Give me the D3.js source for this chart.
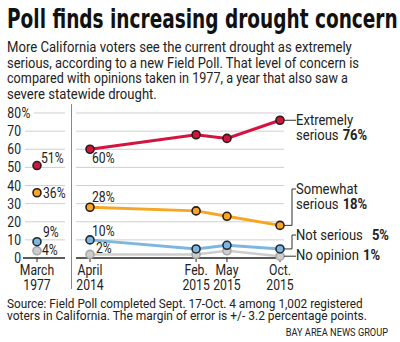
<!DOCTYPE html>
<html>
<head>
<meta charset="utf-8">
<script src="https://cdn.jsdelivr.net/npm/d3@7"></script>
<style>
  body { margin: 0; background: #fff; }
  svg { display: block; }
  text { fill: #222; font-family: "Roboto", "DejaVu Sans Condensed", sans-serif; }
  .head { font-family: "DejaVu Sans Condensed", "Roboto", sans-serif; }
</style>
</head>
<body>
<script>
var width = 400,
    height = 342;

// poll dates (right panel) and the 1977 reference poll
var dates = ["2014-04", "2015-02", "2015-05", "2015-10"];
var dateLabels = [["April", "2014"], ["Feb.", "2015"], ["May", "2015"], ["Oct.", "2015"]];
var pastLabel = ["March", "1977"];

var extremely = [60, 68, 66, 76];
var somewhat = [28, 26, 23, 18];
var notSerious = [10, 5, 7, 5];
var noOpinion = [2, 2, 4, 1];

var past = [51, 36, 9, 4];

var seriesNames = [["Extremely", "serious", "76%"], ["Somewhat", "serious", "18%"], ["Not serious", "", "5%"], ["No opinion", "", "1%"]];
var yTicks = [0, 10, 20, 30, 40, 50, 60, 70, 80];

var colors = ["#d2143f", "#f6a623", "#7db7e0", "#cdcdcd"];
var strokes = ["#2a1a1a", "#2a1a1a", "#1f2a33", "#a8a8a8"];

var parse = d3.timeParse("%Y-%m");

var svg = d3.select("body").append("svg")
    .attr("width", width)
    .attr("height", height);

// text drawn at (x0, y0) and narrowed horizontally by f (condensed look);
// if fit is given, f is chosen so the text is exactly that wide
function label(x0, y0, txt, size, anchor, f, fit, bold) {
  var t = svg.append("text")
      .attr("x", 0).attr("y", 0)
      .attr("text-anchor", anchor || "start")
      .style("font-size", size + "px")
      .style("font-weight", bold ? "bold" : null)
      .text(txt);
  var len = t.node().getComputedTextLength();
  var k = fit ? fit / len : (f || 0.84);
  t.attr("transform", "translate(" + x0 + "," + y0 + ") scale(" + k + ",1)");
  t.w = len * k;
  return t;
}

// headline and intro
label(7, 28, "Poll finds increasing drought concern", 26, "start", null, 346, true)
    .attr("class", "head").style("fill", "#111");

var intro = [
  ["More California voters see the current drought as extremely", 345],
  ["serious, according to a new Field Poll. That level of concern is", 352],
  ["compared with opinions taken in 1977, a year that also saw a", 341],
  ["severe statewide drought.", 150]
];
intro.forEach(function(d, i) {
  label(7, 52 + i * 15.6, d[0], 15, "start", null, d[1]);
});

var y = d3.scaleLinear().domain([0, 80]).range([258, 113]);
var xPast = 37;
var x = d3.scaleTime()
    .domain([parse("2014-04"), parse("2015-10")])
    .range([90, 280]);

// gridlines
var grid = svg.append("g");
yTicks.forEach(function(t) {
  if (t === 0) return;
  var x0 = t === 80 ? 34 : 25;
  grid.append("line").attr("x1", x0).attr("x2", 65)
      .attr("y1", y(t)).attr("y2", y(t))
      .attr("stroke", "#cfcfcf").attr("stroke-width", 1);
  grid.append("line").attr("x1", 76).attr("x2", 284)
      .attr("y1", y(t)).attr("y2", y(t))
      .attr("stroke", "#cfcfcf").attr("stroke-width", 1);
});

// y labels
yTicks.forEach(function(t) {
  label(21, y(t) + 5, t, 14.5, "end");
});
label(21.5, y(80) + 5, "%", 14.5);

// baselines
svg.append("line").attr("x1", 23).attr("x2", 65).attr("y1", y(0)).attr("y2", y(0))
    .attr("stroke", "#222").attr("stroke-width", 1.6);
svg.append("line").attr("x1", 76).attr("x2", 284).attr("y1", y(0)).attr("y2", y(0))
    .attr("stroke", "#222").attr("stroke-width", 1.6);

// divider between 1977 and recent polls
svg.append("line").attr("x1", 71.5).attr("x2", 71.5).attr("y1", 104).attr("y2", 289)
    .attr("stroke", "#888").attr("stroke-width", 1);

// x ticks and labels
var tickXs = [xPast].concat(dates.map(function(d) { return x(parse(d)); }));
var tickLabels = [pastLabel].concat(dateLabels);
tickXs.forEach(function(tx, i) {
  svg.append("line").attr("x1", tx).attr("x2", tx).attr("y1", y(0)).attr("y2", y(0) + 4)
      .attr("stroke", "#222").attr("stroke-width", 1);
  label(tx, 275, tickLabels[i][0], 14.5, "middle");
  label(tx, 289.5, tickLabels[i][1], 14.5, "middle");
});

// series lines and points
var series = [extremely, somewhat, notSerious, noOpinion];
var line = d3.line()
    .x(function(d, i) { return x(parse(dates[i])); })
    .y(function(d) { return y(d); });

series.slice().reverse().forEach(function(s, ri) {
  var k = series.length - 1 - ri;
  svg.append("path").datum(s)
      .attr("d", line)
      .attr("fill", "none")
      .attr("stroke", colors[k])
      .attr("stroke-width", k === 3 ? 2.5 : 3);
});
series.slice().reverse().forEach(function(s, ri) {
  var k = series.length - 1 - ri;
  svg.selectAll(".pt" + k).data(s).enter().append("circle")
      .attr("cx", function(d, i) { return x(parse(dates[i])); })
      .attr("cy", function(d) { return y(d); })
      .attr("r", 4)
      .attr("fill", colors[k])
      .attr("stroke", strokes[k])
      .attr("stroke-width", 1.6);
  svg.append("circle")
      .attr("cx", xPast).attr("cy", y(past[k])).attr("r", 4)
      .attr("fill", colors[k]).attr("stroke", strokes[k]).attr("stroke-width", 1.6);
});

// value labels for 1977 and April 2014
var pastOffsets = [[4, -3], [6, 5], [6, -5], [5, 4]];
past.forEach(function(v, k) {
  label(xPast + pastOffsets[k][0], y(v) + pastOffsets[k][1], v + "%", 14.5);
});
var firstOffsets = [[2, 14], [2, -5], [2, -4], [6, -1]];
series.forEach(function(s, k) {
  label(x(parse(dates[0])) + firstOffsets[k][0], y(s[0]) + firstOffsets[k][1], s[0] + "%", 14.5);
});

// end labels with connectors
var xEnd = x(parse(dates[dates.length - 1]));
var labelY = [120, 189, 235, 255];
series.forEach(function(s, k) {
  var yp = y(s[s.length - 1]);
  var ly = labelY[k];
  var path = k === 0 || k === 3
      ? "M" + (xEnd + 4) + "," + yp + "H296"
      : "M" + (xEnd + 4) + "," + yp + "H292V" + ly + "H296";
  svg.append("path").attr("d", path).attr("fill", "none")
      .attr("stroke", "#333").attr("stroke-width", 1);
  var name = seriesNames[k];
  var lastY = ly + 5;
  var lastTxt = name[0];
  if (name[1]) {
    label(296, ly + 5, name[0], 15, "start", 0.87);
    lastY = ly + 20;
    lastTxt = name[1];
  }
  var reg = label(296, lastY, lastTxt, 15, "start", 0.87);
  label(296 + reg.w + (k === 2 ? 9 : 4), lastY, name[2], 15, "start", 0.87, null, true);
});

// source and credit
label(7, 308, "Source: Field Poll completed Sept. 17-Oct. 4 among 1,002 registered", 13, "start", null, 356);
label(7, 319.5, "voters in California. The margin of error is +/- 3.2 percentage points.", 13, "start", null, 360);
label(388, 336, "BAY AREA NEWS GROUP", 11, "end");
</script>
</body>
</html>
